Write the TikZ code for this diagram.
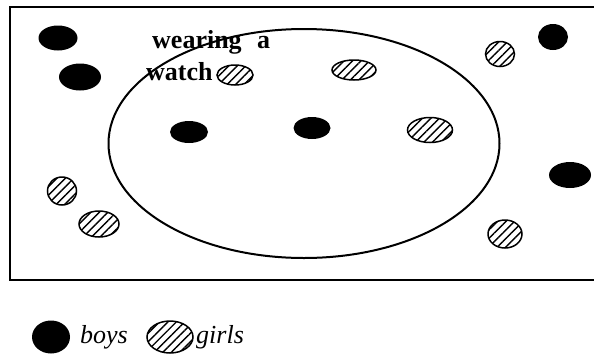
\documentclass[tikz,border=0pt]{standalone}
\usepackage{fontspec}
\setmainfont{Liberation Serif}
\usetikzlibrary{shapes.geometric,patterns.meta}
\begin{document}
\begin{tikzpicture}[x=1pt,y=-1pt,
  boy/.style={ellipse,fill=black,inner sep=0pt},
  girl/.style={ellipse,draw=black,line width=1.5pt,inner sep=0pt,
    pattern={Lines[angle=45,distance=6pt,line width=1.4pt]}},
  lbl/.style={font=\fontsize{26}{30}\selectfont\bfseries,anchor=base west,inner sep=0pt},
  leg/.style={font=\fontsize{26}{30}\selectfont\itshape,anchor=base west,inner sep=0pt}
]
\useasboundingbox (0,0) rectangle (594,354);
\begin{scope}
  \clip (0,0) rectangle (594,354);
  \draw[line width=2.8pt] (620,7) -- (10,7) -- (10,280) -- (620,280);
\end{scope}
% big set
\node[ellipse,draw,line width=2pt,minimum width=391pt,minimum height=229pt,inner sep=0pt] (watchset) at (304,143.5) {};
% label
\node[lbl] (w1) at (152,48) {wearing};
\node[lbl] (w2) at (257,48) {a};
\node[lbl] (w3) at (146,80) {watch};
% boys
\node[boy,minimum width=39pt,minimum height=25pt] (b1) at (58,38) {};
\node[boy,minimum width=42pt,minimum height=27pt] (b2) at (80,77) {};
\node[boy,minimum width=38pt,minimum height=22pt] (b3) at (189,132) {};
\node[boy,minimum width=37pt,minimum height=22pt] (b4) at (312,128) {};
\node[boy,minimum width=30pt,minimum height=26pt] (b5) at (553,37) {};
\node[boy,minimum width=42pt,minimum height=26pt] (b6) at (570,175) {};
% girls
\node[girl,minimum width=36pt,minimum height=20pt] (g1) at (235,75) {};
\node[girl,minimum width=44pt,minimum height=20pt] (g2) at (354,70) {};
\node[girl,minimum width=45pt,minimum height=25pt] (g3) at (430,130) {};
\node[girl,minimum width=29pt,minimum height=25pt] (g4) at (500,54) {};
\node[girl,minimum width=29pt,minimum height=28pt] (g5) at (62,191) {};
\node[girl,minimum width=40pt,minimum height=26pt] (g6) at (99,224) {};
\node[girl,minimum width=34pt,minimum height=28pt] (g7) at (505,234) {};
% legend
\node[boy,minimum width=38pt,minimum height=33pt] (lb) at (51,337) {};
\node[leg] (lbt) at (80,343) {boys};
\node[girl,minimum width=46pt,minimum height=32pt] (lg) at (170,337) {};
\node[leg] (lgt) at (196,343) {girls};
\end{tikzpicture}
\end{document}
